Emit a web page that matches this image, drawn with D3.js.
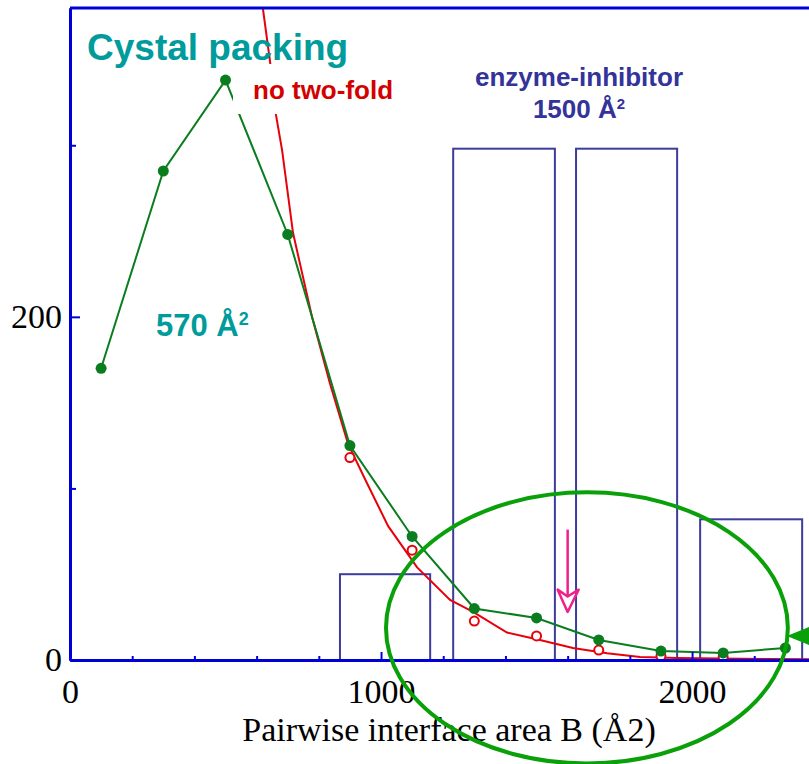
<!DOCTYPE html>
<html>
<head>
<meta charset="utf-8">
<script src="https://cdn.jsdelivr.net/npm/d3@7"></script>
<style>
  body { margin: 0; background: #fff; }
  svg { display: block; }
</style>
</head>
<body>
<svg width="809" height="764"></svg>
<script>
// crystal packing histogram (green, filled dots)
const areaBins = [100, 300, 500, 700, 900, 1100, 1300, 1500, 1700, 1900, 2100, 2300];
const crystalCounts = [170, 285, 338, 248, 125, 72, 30, 24.5, 11.7, 5.2, 4.1, 7];

// "no two-fold" subset (red open circles)
const noTwoFoldAreas = [900, 1100, 1300, 1500, 1700, 1900, 2100];
const noTwoFoldCounts = [118, 64, 22.7, 14, 5.8, 2.3, 1.7];

// red fitted curve
const fitAreas = [620, 643, 662, 682, 717, 778, 836, 894, 955, 1023, 1116, 1222, 1296, 1405, 1511, 1617, 1727, 1833, 1952, 2241, 2376];
const fitCounts = [380, 349, 318, 297, 249, 200, 161, 126, 103, 78, 54, 35, 28, 16, 11.7, 7, 4, 1.7, 1.2, 0.6, 0.5];

// enzyme-inhibitor histogram (blue outlined bars)
const enzLeft = [868, 1232, 1627, 2026];
const enzRight = [1158, 1559, 1952, 2354];
const enzCounts = [50, 298, 298, 82];

// axis ticks
const xMajor = [0, 1000, 2000];
const xMinor = [200, 400, 600, 800, 1200, 1400, 1600, 1800, 2200];
const yMajor = [0, 200];
const yMinor = [100, 300];

const svg = d3.select("svg"),
    width = +svg.attr("width"),
    height = +svg.attr("height");

const x = d3.scaleLinear().domain([0, 2376]).range([70, 809]);
const y = d3.scaleLinear().domain([0, 380]).range([660, 8]);

svg.append("clipPath").attr("id", "plot")
  .append("rect").attr("x", 70).attr("y", 8).attr("width", 739).attr("height", 652);

const plot = svg.append("g").attr("clip-path", "url(#plot)");

// blue bars
plot.selectAll("rect.enz")
  .data(enzCounts)
  .enter().append("rect")
    .attr("class", "enz")
    .attr("x", (d, i) => x(enzLeft[i]))
    .attr("width", (d, i) => x(enzRight[i]) - x(enzLeft[i]))
    .attr("y", d => y(d))
    .attr("height", d => y(0) - y(d))
    .style("fill", "none")
    .style("stroke", "#3c3c9c")
    .style("stroke-width", 2);

// red curve + circles
const fitLine = d3.line().x(d => x(d[0])).y(d => y(d[1]));
plot.append("path")
  .datum(fitAreas.map((a, i) => [a, fitCounts[i]]))
  .attr("d", fitLine)
  .style("fill", "none")
  .style("stroke", "#e8000b")
  .style("stroke-width", 2);

plot.selectAll("circle.red")
  .data(noTwoFoldCounts)
  .enter().append("circle")
    .attr("class", "red")
    .attr("cx", (d, i) => x(noTwoFoldAreas[i]))
    .attr("cy", d => y(d))
    .attr("r", 4.5)
    .style("fill", "#fff")
    .style("stroke", "#e8000b")
    .style("stroke-width", 2);

// green line + dots
plot.append("path")
  .datum(areaBins.map((a, i) => [a, crystalCounts[i]]))
  .attr("d", fitLine)
  .style("fill", "none")
  .style("stroke", "#0a7d1e")
  .style("stroke-width", 2);

plot.selectAll("circle.green")
  .data(crystalCounts)
  .enter().append("circle")
    .attr("class", "green")
    .attr("cx", (d, i) => x(areaBins[i]))
    .attr("cy", d => y(d))
    .attr("r", 5.5)
    .style("fill", "#0a7d1e");

// labels
const sans = "'Liberation Sans', Arial, sans-serif";
svg.append("rect")
  .attr("x", 233).attr("y", 64).attr("width", 170).attr("height", 50)
  .style("fill", "#fff");
svg.append("text")
  .attr("x", 253).attr("y", 99)
  .style("font", "bold 26px " + sans)
  .style("fill", "#d40000")
  .text("no two-fold");

svg.append("text")
  .attr("x", 87).attr("y", 60)
  .style("font", "bold 37px " + sans)
  .style("fill", "#009b9b")
  .text("Cystal packing");

const t570 = svg.append("text")
  .attr("x", 156).attr("y", 336)
  .style("font", "bold 31px " + sans)
  .style("fill", "#009b9b")
  .text("570 Å");
t570.append("tspan").attr("dy", -11).style("font-size", "18px").text("2");

svg.append("text")
  .attr("x", 579).attr("y", 86)
  .attr("text-anchor", "middle")
  .style("font", "bold 26px " + sans)
  .style("fill", "#333399")
  .text("enzyme-inhibitor");
const t1500 = svg.append("text")
  .attr("x", 579).attr("y", 118)
  .attr("text-anchor", "middle")
  .style("font", "bold 26px " + sans)
  .style("fill", "#333399")
  .text("1500 Å");
t1500.append("tspan").attr("dy", -9).style("font-size", "15px").text("2");

// axes
const axisColor = "#0000d8";
const serif = "'Liberation Serif', 'Times New Roman', serif";

const gxMinor = svg.append("g").attr("transform", "translate(0," + y(0) + ")")
  .call(d3.axisBottom(x).tickValues(xMinor).tickSize(-4).tickSizeOuter(0).tickFormat(""));
const gx = svg.append("g").attr("transform", "translate(0," + y(0) + ")")
  .call(d3.axisBottom(x).tickValues(xMajor).tickSize(-8).tickSizeOuter(0).tickPadding(19).tickFormat(d3.format("d")));
const gyMinor = svg.append("g").attr("transform", "translate(" + x(0) + ",0)")
  .call(d3.axisLeft(y).tickValues(yMinor).tickSize(-6).tickSizeOuter(0).tickFormat(""));
const gy = svg.append("g").attr("transform", "translate(" + x(0) + ",0)")
  .call(d3.axisLeft(y).tickValues(yMajor).tickSize(-10).tickSizeOuter(0).tickPadding(8).tickFormat(d3.format("d")));

[gxMinor, gx, gyMinor, gy].forEach(g => {
  g.selectAll(".domain").style("stroke", axisColor).style("stroke-width", 3);
  g.selectAll(".tick line").style("stroke", axisColor).style("stroke-width", 2);
  g.selectAll("text").style("fill", "#000").style("font-family", serif).style("font-size", "34px");
});

// top frame line
svg.append("line")
  .attr("x1", x(0)).attr("x2", width)
  .attr("y1", y(380)).attr("y2", y(380))
  .style("stroke", axisColor).style("stroke-width", 3);

svg.append("text")
  .attr("x", 449).attr("y", 741)
  .attr("text-anchor", "middle")
  .style("font-family", serif)
  .style("font-size", "34px")
  .text("Pairwise interface area B (Å2)");

// green ellipse highlight
svg.append("ellipse")
  .attr("cx", x(1662)).attr("cy", y(18.7))
  .attr("rx", x(2308) - x(1662)).attr("ry", y(0) - y(79))
  .style("fill", "none")
  .style("stroke", "#0aa00a")
  .style("stroke-width", 4);

// green arrow at right edge
svg.append("path")
  .attr("d", "M" + x(2305) + "," + y(14) + " L" + width + "," + (y(14) - 9) + " L" + width + "," + (y(14) + 9) + " Z")
  .style("fill", "#0aa00a");

// pink arrow at 1600
const ax = x(1600);
svg.append("line")
  .attr("x1", ax).attr("x2", ax).attr("y1", y(76)).attr("y2", y(37))
  .style("stroke", "#f0208a").style("stroke-width", 2.5);
svg.append("path")
  .attr("d", "M" + (ax - 10) + "," + y(41) + " L" + ax + "," + y(28) + " L" + (ax + 11) + "," + y(41) + " L" + ax + "," + y(37) + " Z")
  .style("fill", "none")
  .style("stroke", "#f0208a").style("stroke-width", 2.5)
  .style("stroke-linejoin", "round");
</script>
</body>
</html>
